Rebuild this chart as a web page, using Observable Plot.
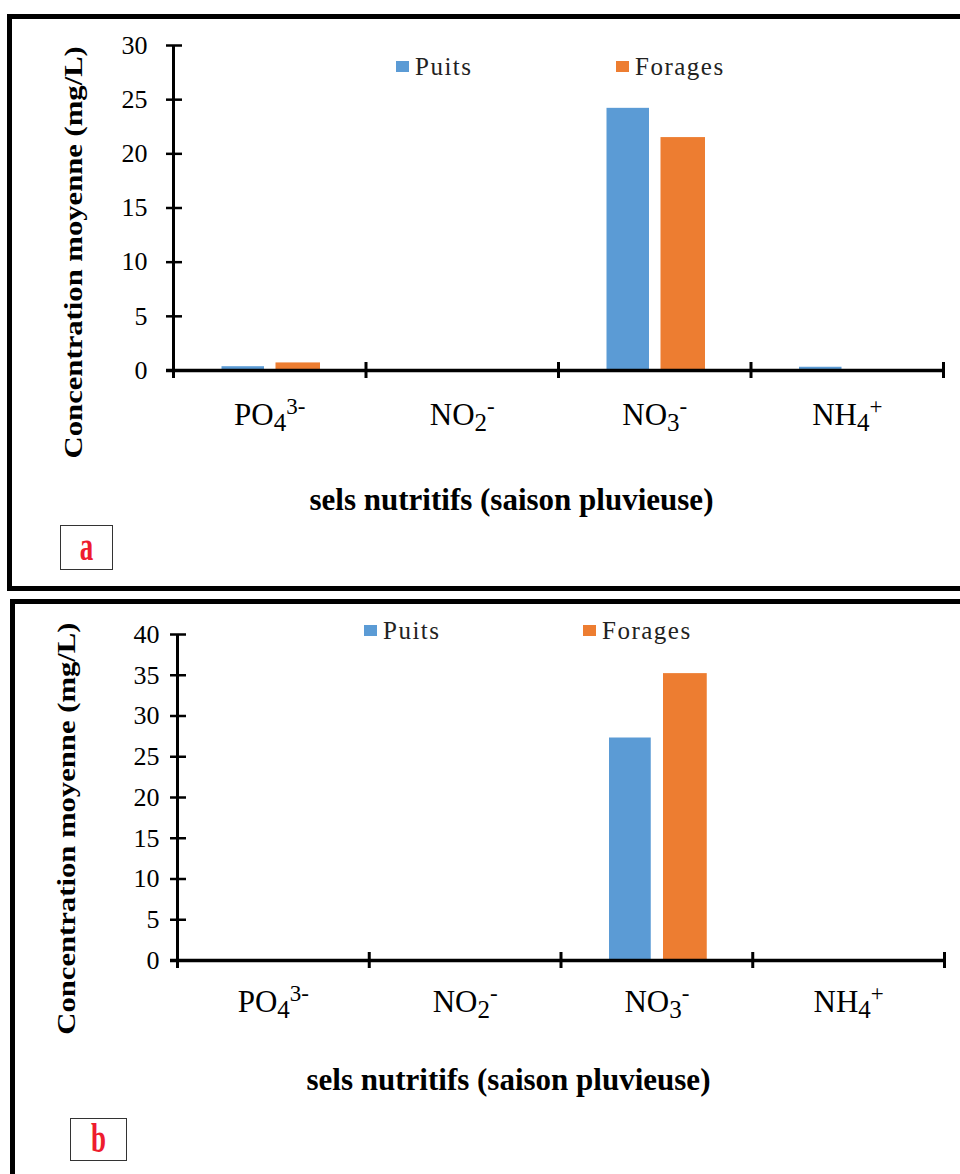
<!DOCTYPE html>
<html>
<head>
<meta charset="utf-8">
<script src="https://cdn.jsdelivr.net/npm/d3@7"></script>
<script src="https://cdn.jsdelivr.net/npm/@observablehq/plot@0.6"></script>
<style>
  html, body { margin: 0; padding: 0; background: #fff; }
  #page { position: relative; width: 960px; height: 1174px; overflow: hidden; font-family: "Liberation Serif", "Times New Roman", serif; }
  .panel { position: absolute; border: 5px solid #000; box-sizing: border-box; }
  .chart { position: absolute; left: 0; }
  .tag { position: absolute; border: 1.5px solid #333; background: #fff; box-sizing: border-box; }
  .tag span { position: absolute; left: 0; right: 0; text-align: center; color: #ee1c2e; font-family: "Liberation Serif", serif; font-weight: bold; font-size: 27px; line-height: 27px; transform: scaleY(1.55); transform-origin: 50% 50%; }
  .legend { position: absolute; margin: 0 !important; white-space: nowrap; display: flex; }
</style>
</head>
<body>
<div id="page">
  <div class="panel" style="left:7px;top:14px;width:1000px;height:577px"></div>
  <div class="panel" style="left:10px;top:599px;width:1000px;height:620px"></div>
</div>
<script>
// ---- data ----
const categories = ["PO4", "NO2", "NO3", "NH4"];
const categoryParts = [["PO", "4", "3-"], ["NO", "2", "-"], ["NO", "3", "-"], ["NH", "4", "+"]];
const series = ["Puits", "Forages"];
const colors = ["#5B9BD5", "#ED7D31"];
const puitsA = [0.35, 0, 24.2, 0.3];
const foragesA = [0.7, 0, 21.5, 0];
const puitsB = [0, 0, 27.3, 0];
const foragesB = [0, 0, 35.2, 0];
const yTicksA = [0, 5, 10, 15, 20, 25, 30];
const yTicksB = [0, 5, 10, 15, 20, 25, 30, 35, 40];
const yTitle = "Concentration moyenne (mg/L)";
const xTitle = "sels nutritifs (saison pluvieuse)";
const panelTags = ["a", "b"];

const page = document.getElementById("page");
const NS = "http://www.w3.org/2000/svg";
const SERIF = "'Liberation Serif', 'Times New Roman', serif";

function rowsOf(puits, forages) {
  const rows = [];
  categories.forEach((c, i) => {
    rows.push({category: c, idx: i, series: series[0], value: puits[i]});
    rows.push({category: c, idx: i, series: series[1], value: forages[i]});
  });
  return rows;
}

function richLabels(svg) {
  svg.querySelectorAll("text").forEach(t => {
    const i = categories.indexOf(t.textContent.trim());
    if (i < 0) return;
    const [base, sub, sup] = categoryParts[i];
    t.textContent = "";
    const a = document.createElementNS(NS, "tspan"); a.textContent = base;
    const b = document.createElementNS(NS, "tspan"); b.textContent = sub;
    b.setAttribute("font-size", "25"); b.setAttribute("dy", "6");
    const c = document.createElementNS(NS, "tspan"); c.textContent = sup;
    c.setAttribute("font-size", "23"); c.setAttribute("dy", "-17");
    t.append(a, b, c);
  });
}

// stretch a rendered text about its anchor point (the reference's lettering is elongated)
function stretchText(svg, content, ax, ay, sx, sy) {
  const t = Array.from(svg.querySelectorAll("text")).find(e => e.textContent === content);
  if (!t) return;
  const w = document.createElementNS(NS, "g");
  w.setAttribute("transform", `translate(${ax},${ay}) scale(${sx},${sy}) translate(${-ax},${-ay})`);
  t.parentNode.insertBefore(w, t);
  w.appendChild(t);
}

function chart(cfg) {
  const rows = rowsOf(cfg.puits, cfg.forages);
  const bounds = d3.range(categories.length + 1);
  const svg = Plot.plot({
    width: 960,
    height: cfg.height,
    marginLeft: cfg.ml, marginRight: cfg.mr, marginTop: cfg.mt, marginBottom: cfg.mb,
    style: {background: "transparent", fontFamily: SERIF, color: "#000", overflow: "visible"},
    x: {type: "linear", domain: [0, categories.length], axis: null, label: null},
    y: {domain: [0, cfg.yMax], axis: null, label: null},
    marks: [
      Plot.rectY(rows.filter(d => d.series === series[0]), {x: "idx", y: "value", interval: 1, fill: colors[0], insetLeft: 48.5, insetRight: 101.5}),
      Plot.rectY(rows.filter(d => d.series === series[1]), {x: "idx", y: "value", interval: 1, fill: colors[1], insetLeft: 102.5, insetRight: 45.5}),
      Plot.ruleX([0], {stroke: "#000", strokeWidth: 3}),
      Plot.ruleY(cfg.yTicks, {x1: 0, x2: 0, insetLeft: -7, insetRight: -9, stroke: "#000", strokeWidth: 2.5}),
      Plot.ruleY([0], {insetLeft: -7, stroke: "#000", strokeWidth: 3.5}),
      Plot.ruleX(bounds, {y1: 0, y2: 0, insetTop: -8, insetBottom: -8, stroke: "#000", strokeWidth: 3}),
      Plot.axisY({ticks: cfg.yTicks, tickSize: 0, tickPadding: cfg.yPad, fontSize: 26, label: null, tickFormat: d => String(d)}),
      Plot.axisX({ticks: categories.map((c, i) => i + 0.5), tickSize: 0, tickPadding: cfg.xPad, fontSize: 31, label: null, tickFormat: t => categories[Math.floor(t)]}),
      Plot.text([yTitle], {text: d => d, frameAnchor: "left", textAnchor: "middle", lineAnchor: "middle", rotate: -90, dx: cfg.ytDx, dy: cfg.ytDy, fontSize: 26, fontWeight: "bold", fill: "#000"}),
      Plot.text([xTitle], {text: d => d, frameAnchor: "bottom", textAnchor: "middle", lineAnchor: "middle", dx: cfg.xtDx, dy: cfg.xtDy, fontSize: 31, fontWeight: "bold", fill: "#000"})
    ]
  });
  richLabels(svg);
  const frameMidY = cfg.mt + (cfg.height - cfg.mt - cfg.mb) / 2;
  stretchText(svg, yTitle, cfg.ml + cfg.ytDx, frameMidY + cfg.ytDy, 1, 1.18);
  svg.classList.add("chart");
  svg.style.top = cfg.top + "px";
  svg.style.position = "absolute";
  svg.style.left = "0px";
  svg.style.maxWidth = "none";
  page.appendChild(svg);

  // legend
  const leg = Plot.legend({color: {domain: series, range: colors}, legend: "swatches", swatchWidth: 13, swatchHeight: 11});
  leg.classList.add("legend");
  leg.style.left = cfg.legLeft + "px";
  leg.style.top = cfg.legTop + "px";
  [leg, ...leg.querySelectorAll("*")].forEach(e => {
    if (e.tagName.toLowerCase() === "style") return;
    e.style.setProperty("font-family", SERIF, "important");
    e.style.setProperty("font-size", "25px", "important");
    e.style.setProperty("letter-spacing", "1.5px");
    e.style.setProperty("color", "#222");
  });
  leg.querySelectorAll("svg").forEach((s, i) => {
    s.style.marginRight = "6px";
    const item = s.parentElement;
    item.style.marginRight = "0px";
    if (i === 0) item.style.width = cfg.legGap + "px";
  });
  page.appendChild(leg);

  // panel tag
  const tag = document.createElement("div");
  tag.className = "tag";
  tag.style.left = cfg.tag[0] + "px";
  tag.style.top = cfg.tag[1] + "px";
  tag.style.width = cfg.tag[2] + "px";
  tag.style.height = cfg.tag[3] + "px";
  const s = document.createElement("span");
  s.textContent = cfg.tagText;
  s.style.top = ((cfg.tag[3] - 27) / 2 - 2) + "px";
  tag.appendChild(s);
  page.appendChild(tag);
}

chart({
  puits: puitsA, forages: foragesA, yMax: 30, yTicks: yTicksA,
  top: 0, height: 590, ml: 173, mr: 17, mt: 45, mb: 220,
  yPad: 26, xPad: 32, ytDx: -100, ytDy: 54, xtDx: -47, xtDy: 130,
  legLeft: 396, legTop: 50, legGap: 220,
  tag: [60, 525, 53, 45], tagText: panelTags[0]
});
chart({
  puits: puitsB, forages: foragesB, yMax: 40, yTicks: yTicksB,
  top: 590, height: 584, ml: 177, mr: 16, mt: 44, mb: 214,
  yPad: 18, xPad: 29, ytDx: -111, ytDy: 38, xtDx: -52.5, xtDy: 120,
  legLeft: 364, legTop: 614, legGap: 219,
  tag: [70, 1118, 57, 43], tagText: panelTags[1]
});
</script>
</body>
</html>
